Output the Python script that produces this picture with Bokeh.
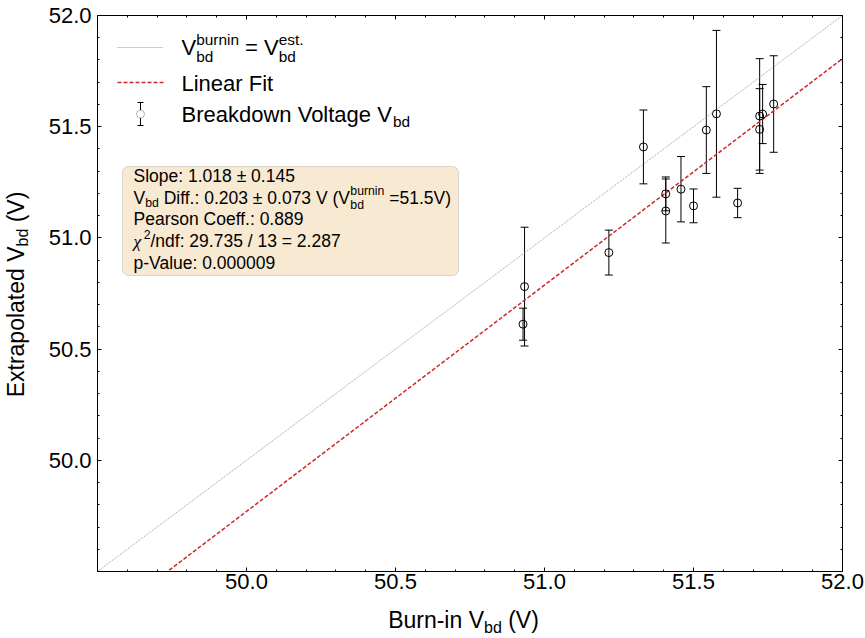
from bokeh.plotting import figure
from bokeh.models import (ColumnDataSource, Whisker, TeeHead, Label, BoxAnnotation, Arrow,
                          FixedTicker, LinearAxis, Range1d, PrintfTickFormatter,
                          CustomJSTickFormatter)
from bokeh.embed import file_html
from bokeh.resources import INLINE

# ---------------- data ----------------
burnin_vbd = [50.933, 50.928, 51.216, 51.332, 51.407, 51.407, 51.458, 51.500,
              51.543, 51.577, 51.648, 51.722, 51.732, 51.722, 51.769]
extrap_vbd = [50.781, 50.612, 50.934, 51.409, 51.198, 51.121, 51.219, 51.144,
              51.485, 51.558, 51.157, 51.548, 51.557, 51.488, 51.602]
extrap_err = [0.267, 0.072, 0.101, 0.166, 0.076, 0.144, 0.147, 0.076,
              0.195, 0.375, 0.066, 0.258, 0.133, 0.183, 0.217]

axis_min, axis_max = 49.5, 52.0
major_ticks = [50.0, 50.5, 51.0, 51.5, 52.0]
minor_ticks = [49.6, 49.7, 49.8, 49.9, 50.1, 50.2, 50.3, 50.4, 50.6, 50.7, 50.8, 50.9,
               51.1, 51.2, 51.3, 51.4, 51.6, 51.7, 51.8, 51.9]

fit_slope, fit_slope_err = 1.018, 0.145
vbd_diff, vbd_diff_err, vbd_ref = 0.203, 0.073, 51.5
pearson = 0.889
chi2, ndf, chi2_ndf = 29.735, 13, 2.287
p_value = "0.000009"

x_title = ["Burn-in V", "bd", " (V)"]
y_title = ["Extrapolated V", "bd", " (V)"]

# ---------------- figure ----------------
W_, H_ = 865, 638
FL, FR, FT, FB = 97, 842, 15, 571
FONT = "Liberation Sans"

p = figure(width=W_, height=H_, output_backend="svg", toolbar_location=None,
           x_range=Range1d(axis_min, axis_max), y_range=Range1d(axis_min, axis_max),
           min_border_left=FL, min_border_right=W_ - FR, min_border_top=FT,
           min_border_bottom=H_ - FB)
p.xgrid.visible = False
p.ygrid.visible = False
p.outline_line_color = "black"
p.background_fill_color = "white"
p.border_fill_color = "white"


def style_axis(ax, show_labels=True):
    ax.ticker = FixedTicker(ticks=major_ticks, minor_ticks=minor_ticks)
    ax.major_tick_in = 4
    ax.major_tick_out = 0
    ax.minor_tick_in = 2
    ax.minor_tick_out = 0
    ax.axis_line_color = "black"
    ax.major_tick_line_color = "black"
    ax.minor_tick_line_color = "black"
    ax.major_label_text_font = FONT
    ax.major_label_text_color = "black"
    if show_labels:
        ax.formatter = PrintfTickFormatter(format="%.1f")
        ax.major_label_text_font_size = "22px"
        ax.major_label_standoff = 2
    else:
        ax.formatter = CustomJSTickFormatter(code="return ''")
        ax.major_label_text_font_size = "1px"
        ax.major_label_standoff = 0


style_axis(p.xaxis[0])
style_axis(p.yaxis[0])
p.yaxis[0].major_label_standoff = 6
top_ax = LinearAxis()
right_ax = LinearAxis()
style_axis(top_ax, False)
style_axis(right_ax, False)
p.add_layout(top_ax, "above")
p.add_layout(right_ax, "right")

# ---------------- lines ----------------
line_x = [axis_min, axis_max]
p.line(line_x, line_x, line_color="#9c9c9c", line_width=1, line_dash="1 1")
fit_y = [fit_slope * (x - vbd_ref) + (vbd_ref - vbd_diff) for x in line_x]
p.line(line_x, fit_y, line_color="#cc2a2a", line_width=1.5, line_dash="4 2")

# ---------------- data points ----------------
src = ColumnDataSource(dict(
    x=burnin_vbd, y=extrap_vbd,
    upper=[v + e for v, e in zip(extrap_vbd, extrap_err)],
    lower=[v - e for v, e in zip(extrap_vbd, extrap_err)]))
p.add_layout(Whisker(base="x", upper="upper", lower="lower", source=src, dimension="height",
                     line_color="black", line_width=1,
                     upper_head=TeeHead(size=8, line_color="black", line_width=1),
                     lower_head=TeeHead(size=8, line_color="black", line_width=1)))
p.scatter("x", "y", source=src, marker="circle", size=8, fill_color=None,
          line_color="black", line_width=1)

# ---------------- text metrics (Arial / Liberation Sans advance widths) ----------------
CW = {' ': 278, '(': 333, ')': 333, '.': 278, '/': 278, ':': 278, '=': 584, '\u00b1': 549,
      '-': 333, 'A': 667, 'B': 667, 'C': 722, 'D': 722, 'E': 667, 'F': 611, 'L': 556,
      'P': 667, 'S': 667, 'V': 667, 'a': 556, 'b': 556, 'c': 500, 'd': 556, 'e': 556,
      'f': 278, 'g': 556, 'h': 556, 'i': 222, 'k': 500, 'l': 222, 'm': 833, 'n': 556,
      'o': 556, 'p': 556, 'r': 333, 's': 500, 't': 278, 'u': 556, 'v': 500, 'w': 722,
      'x': 500, 'y': 500, '\u03c7': 550}
for d in "0123456789":
    CW[d] = 556


def tw(s, size):
    return sum(CW.get(c, 556) for c in s) * size / 1000.0


def put(text, px, py, size, angle=0.0, font=FONT, style="normal"):
    lead = len(text) - len(text.lstrip(" "))
    if lead:
        px += tw(" " * lead, size)
    p.add_layout(Label(x=px - FL, y=FB - py, x_units="screen", y_units="screen",
                       text=text.strip(" "), text_font=font, text_font_size=f"{size:.2f}px",
                       text_font_style=style, text_color="black",
                       text_baseline="middle", text_align="left", angle=angle))


def rich(segs, px, py, size):
    """segs: list of (kind, text[, text2]); px: start x, py: vertical centre of main text."""
    small = 0.7 * size
    x = px
    for seg in segs:
        kind = seg[0]
        if kind == "n":
            put(seg[1], x, py, size)
            x += tw(seg[1], size)
        elif kind == "it":
            put(seg[1], x, py, size, font="Liberation Serif", style="italic")
            x += tw(seg[1], size)
        elif kind == "sub":
            put(seg[1], x, py + 0.30 * size, small)
            x += tw(seg[1], small)
        elif kind == "sup":
            put(seg[1], x + 0.5, py - 0.36 * size, small)
            x += tw(seg[1], small) + 0.5
        elif kind == "ss":  # superscript seg[1], subscript seg[2]
            put(seg[1], x, py - 0.36 * size, small)
            put(seg[2], x, py + 0.40 * size, small)
            x += max(tw(seg[1], small), tw(seg[2], small))
    return x - px


# ---------------- axis titles (drawn as tick labels of extra, line-less axes) ----------------
def px2x(px):
    return axis_min + (px - FL) * (axis_max - axis_min) / (FR - FL)


def py2y(py):
    return axis_min + (FB - py) * (axis_max - axis_min) / (FB - FT)


def title_axis(side, ticks, labels, size, standoff, vertical=False):
    ax = LinearAxis(ticker=FixedTicker(ticks=ticks, minor_ticks=[]),
                    formatter=CustomJSTickFormatter(args=dict(labels=labels),
                                                    code="return labels[index]"),
                    axis_line_color=None, major_tick_line_color=None,
                    minor_tick_line_color=None, major_tick_in=0, major_tick_out=0,
                    minor_tick_in=0, minor_tick_out=0, major_label_text_font=FONT,
                    major_label_text_font_size=f"{size}px", major_label_standoff=standoff,
                    major_label_text_color="black")
    if vertical:
        ax.major_label_orientation = "vertical"
    p.add_layout(ax, side)


TS, TSS = 23, 16
# x title
w1, w2 = tw(x_title[0], TS), tw(x_title[1], TSS)
w3_lead, w3 = tw(" ", TS), tw(x_title[2].strip(), TS)
tot = w1 + w2 + w3_lead + w3
x0 = 463 - tot / 2
title_axis("below", [px2x(x0 + w1 / 2), px2x(x0 + w1 + w2 + w3_lead + w3 / 2)],
           [x_title[0], x_title[2].strip()], TS, 15)
title_axis("below", [px2x(x0 + w1 + w2 / 2)], [x_title[1]], TSS, -17)
# y title (reads upward)
w1, w2 = tw(y_title[0], TS), tw(y_title[1], TSS)
w3_lead, w3 = tw(" ", TS), tw(y_title[2].strip(), TS)
tot = w1 + w2 + w3_lead + w3
y0 = 294 + tot / 2
title_axis("left", [py2y(y0 - w1 / 2), py2y(y0 - w1 - w2 - w3_lead - w3 / 2)],
           [y_title[0], y_title[2].strip()], TS, 16, vertical=True)
title_axis("left", [py2y(y0 - w1 - w2 / 2)], [y_title[1]], TSS, -31, vertical=True)

# ---------------- legend ----------------
LS = 22
p.add_layout(Arrow(end=None, x_start=117 - FL, y_start=FB - 47, x_end=163 - FL, y_end=FB - 47,
                   start_units="screen", end_units="screen",
                   line_color="#9c9c9c", line_width=1, line_dash="1 1"))
p.add_layout(Arrow(end=None, x_start=117 - FL, y_start=FB - 82, x_end=163 - FL, y_end=FB - 82,
                   start_units="screen", end_units="screen",
                   line_color="#cc2a2a", line_width=1.5, line_dash="4 2"))
p.add_layout(Arrow(start=TeeHead(size=6, line_color="black", line_width=1),
                   end=TeeHead(size=6, line_color="black", line_width=1),
                   x_start=140 - FL, y_start=FB - 102, x_end=140 - FL, y_end=FB - 125,
                   start_units="screen", end_units="screen", line_color="black", line_width=1))
p.add_layout(BoxAnnotation(left=136 - FL, right=144 - FL, top=FB - 109.5, bottom=FB - 117.5,
                           left_units="screen", right_units="screen", top_units="screen",
                           bottom_units="screen", fill_color="white", fill_alpha=1.0,
                           line_color="black", line_width=1, border_radius=4))

rich([("n", "V"), ("ss", "burnin", "bd"), ("n", " = V"), ("ss", "est.", "bd")], 181, 47, LS)
rich([("n", "Linear Fit")], 181, 82.5, LS)
rich([("n", "Breakdown Voltage V"), ("sub", "bd")], 181, 114, LS)

# ---------------- stats box ----------------
p.add_layout(BoxAnnotation(left=122 - FL, right=458 - FL, top=FB - 166, bottom=FB - 275,
                           left_units="screen", right_units="screen", top_units="screen",
                           bottom_units="screen", fill_color="#f8e9d2", fill_alpha=1.0,
                           line_color="#8a8a8a", line_width=1, border_radius=6))
BS = 17.5
bx, by, dy = 133, 175.3, 21.7
rich([("n", f"Slope: {fit_slope:.3f} \u00b1 {fit_slope_err:.3f}")], bx, by, BS)
rich([("n", "V"), ("sub", "bd"),
      ("n", f" Diff.: {vbd_diff:.3f} \u00b1 {vbd_diff_err:.3f} V (V"),
      ("ss", "burnin", "bd"), ("n", f" ={vbd_ref:.1f}V)")], bx, by + dy, BS)
rich([("n", f"Pearson Coeff.: {pearson:.3f}")], bx, by + 2 * dy, BS)
rich([("it", "\u03c7"), ("sup", "2"), ("n", f"/ndf: {chi2:.3f} / {ndf} = {chi2_ndf:.3f}")],
     bx, by + 3 * dy, BS)
rich([("n", f"p-Value: {p_value}")], bx, by + 4 * dy, BS)

open("out.html", "w").write(file_html(p, INLINE))
